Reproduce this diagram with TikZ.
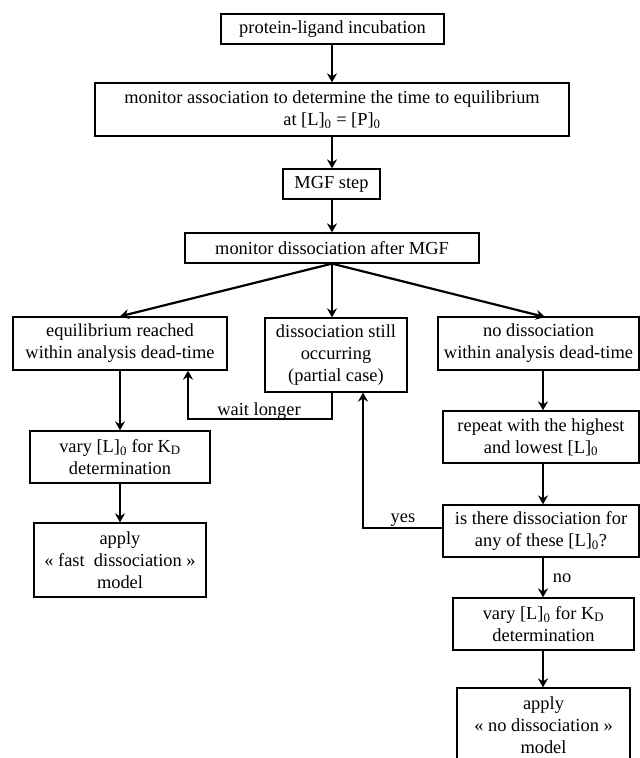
\documentclass[tikz,border=0pt]{standalone}
\usepackage{fontspec}
\setmainfont{Liberation Serif}
\usetikzlibrary{arrows.meta}
\begin{document}
\begin{tikzpicture}[x=1pt,y=-1pt,
  box/.style={draw,line width=1.3pt,align=center,inner sep=0pt,
    font=\fontsize{18.4}{22}\selectfont},
  arr/.style={line width=2.2pt,-{Stealth[length=9pt,width=10pt,inset=3pt]}},
  lbl/.style={font=\fontsize{18.4}{22}\selectfont,inner sep=0pt,anchor=base}]
\useasboundingbox (0,0) rectangle (640,758);
\node[box,minimum width=223pt,minimum height=30pt] (inc) at (332.5,29) {protein-ligand incubation};
\node[box,minimum width=474pt,minimum height=53pt] (assoc) at (332,109.5) {monitor association to determine the time to equilibrium\\at [L]\textsubscript{0} = [P]\textsubscript{0}};
\node[box,minimum width=97pt,minimum height=30pt] (mgf) at (331.5,184) {MGF step};
\node[box,minimum width=294pt,minimum height=30pt] (diss) at (332,248) {monitor dissociation after MGF};
\node[box,minimum width=214pt,minimum height=53pt] (eq) at (120,343.5) {equilibrium reached\\within analysis dead-time};
\node[box,minimum width=142pt,minimum height=74pt] (part) at (336,355) {dissociation still\\occurring\\(partial case)};
\node[box,minimum width=201pt,minimum height=53pt] (nod) at (538.5,343.5) {no dissociation\\within analysis dead-time};
\node[box,minimum width=180pt,minimum height=52pt] (varyL) at (120,457) {vary [L]\textsubscript{0} for K\textsubscript{D}\\determination};
\node[box,minimum width=172pt,minimum height=74pt] (applyL) at (120,560) {apply\\« fast~ dissociation »\\model};
\node[box,minimum width=196pt,minimum height=52pt] (rep) at (541,437) {repeat with the highest\\and lowest [L]\textsubscript{0}};
\node[box,minimum width=196pt,minimum height=52pt] (isth) at (541,531) {is there dissociation for\\any of these [L]\textsubscript{0}?};
\node[box,minimum width=181pt,minimum height=52pt] (varyR) at (543.5,624) {vary [L]\textsubscript{0} for K\textsubscript{D}\\determination};
\node[box,minimum width=173pt,minimum height=74pt] (applyR) at (543.5,725) {apply\\« no dissociation »\\model};
\coordinate (cR) at (543,0);
\coordinate (cM) at (332,0);
\coordinate (nodtip) at (545,317);
\coordinate (w1) at (188,419);
\coordinate (y1) at (363,528);
\draw[arr] (inc.south -| cM) -- (assoc.north -| cM);
\draw[arr] (assoc.south -| cM) -- (mgf.north -| cM);
\draw[arr] (mgf.south -| cM) -- (diss.north -| cM);
\draw[arr] (diss.south -| cM) -- (eq.north);
\draw[arr] (diss.south -| cM) -- (part.north -| cM);
\draw[arr] (diss.south -| cM) -- (nodtip);
\draw[arr] (eq.south) -- (varyL.north);
\draw[arr] (varyL.south) -- (applyL.north);
\draw[arr] (part.south -| cM) |- (w1) -- (w1 |- eq.south);
\node[lbl] (wl) at (259,415) {wait longer};
\draw[arr] (nod.south -| cR) -- (rep.north -| cR);
\draw[arr] (rep.south -| cR) -- (isth.north -| cR);
\draw[arr] (isth.west |- y1) -- (y1) -- (y1 |- part.south);
\node[lbl] (yes) at (403,522) {yes};
\draw[arr] (isth.south -| cR) -- (varyR.north -| cR);
\node[lbl] (no) at (562,582) {no};
\draw[arr] (varyR.south -| cR) -- (applyR.north -| cR);
\end{tikzpicture}
\end{document}
